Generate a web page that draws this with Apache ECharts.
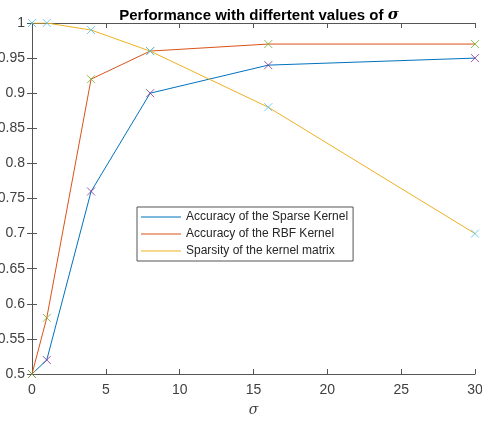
<!DOCTYPE html>
<html><head><meta charset="utf-8">
<script src="https://cdn.jsdelivr.net/npm/echarts@6/dist/echarts.min.js"></script>
<style>html,body{margin:0;padding:0;background:#fff}#c{width:482px;height:421px}</style>
</head><body><div id="c"></div>
<script>
var sigma = [0, 1, 4, 8, 16, 30];
var sparseAcc = [0.5, 0.52, 0.76, 0.90, 0.94, 0.95];
var rbfAcc = [0.5, 0.58, 0.92, 0.96, 0.97, 0.97];
var sparsity = [1.0, 1.0, 0.99, 0.96, 0.88, 0.70];
var seriesNames = ['Accuracy of the Sparse Kernel', 'Accuracy of the RBF Kernel', 'Sparsity of the kernel matrix'];
var lineColors = ['#0072BD', '#D95319', '#EDB120'];
var markerColors = ['#7E2F8E', '#77AC30', '#4DBEEE'];

function pairs(ys){ return sigma.map(function(x,i){return [x, ys[i]];}); }
var allData = [sparseAcc, rbfAcc, sparsity];
var font = 'Liberation Sans, Arial, sans-serif';
var axisCol = '#555555';
var series = [];
allData.forEach(function(d, i){
  series.push({name: seriesNames[i], type: 'line', data: pairs(d), showSymbol: false, symbol: 'none',
    lineStyle: {color: lineColors[i], width: 1}, itemStyle: {color: lineColors[i]}, z: 2, animation: false});
});
allData.forEach(function(d, i){
  series.push({type: 'scatter', data: pairs(d), symbol: 'path://M0,0L10,10M10,0L0,10', symbolSize: 8,
    itemStyle: {color: 'none', borderColor: markerColors[i], borderWidth: 1}, z: 3, animation: false});
});
function yLab(v){ return String(Math.round(v*100)/100); }
var chart = echarts.init(document.getElementById('c'));
chart.setOption({
  animation: false,
  title: {text: '{b|Performance with differtent values of }{s|σ}', left: 254, textAlign: 'center', top: 3,
    textStyle: {rich: {b: {fontFamily: font, fontWeight: 'bold', fontSize: 15, color: '#000'},
      s: {fontFamily: 'DejaVu Serif, serif', fontStyle: 'italic', fontSize: 15, color: '#000'}}}},
  grid: {left: 32, right: 7, top: 23, bottom: 47, containLabel: false, outerBoundsMode: 'none'},
  legend: {data: seriesNames, orient: 'vertical', left: 137, top: 207, icon: 'rect', itemWidth: 40, itemHeight: 1,
    itemGap: 5, padding: [4, 5, 4, 4], borderColor: '#555', borderWidth: 1, backgroundColor: '#fff',
    textStyle: {fontFamily: font, fontSize: 12, color: '#262626'}},
  xAxis: [{type: 'value', min: 0, max: 30, interval: 5, position: 'bottom',
    axisLine: {show: true, lineStyle: {color: axisCol}}, axisTick: {inside: true, length: 5, lineStyle: {color: axisCol}},
    axisLabel: {fontFamily: font, fontSize: 14, color: '#404040', margin: 9}, splitLine: {show: false},
    name: 'σ', nameLocation: 'middle', nameGap: 29, nameTextStyle: {fontFamily: 'DejaVu Serif, serif', fontStyle: 'italic', fontSize: 14, color: '#404040'}},
   {type: 'value', min: 0, max: 30, interval: 5, position: 'top',
    axisLine: {show: true, lineStyle: {color: axisCol}}, axisTick: {inside: true, length: 5, lineStyle: {color: axisCol}},
    axisLabel: {show: false}, splitLine: {show: false}}],
  yAxis: [{type: 'value', min: 0.5, max: 1, interval: 0.05, position: 'left',
    axisLine: {show: true, lineStyle: {color: axisCol}}, axisTick: {inside: true, length: 5, lineStyle: {color: axisCol}},
    axisLabel: {fontFamily: font, fontSize: 14, color: '#404040', margin: 7, formatter: yLab}, splitLine: {show: false}},
   {type: 'value', min: 0.5, max: 1, interval: 0.05, position: 'right',
    axisLine: {show: true, lineStyle: {color: axisCol}}, axisTick: {inside: true, length: 5, lineStyle: {color: axisCol}},
    axisLabel: {show: false}, splitLine: {show: false}}],
  series: series
});
</script></body></html>
